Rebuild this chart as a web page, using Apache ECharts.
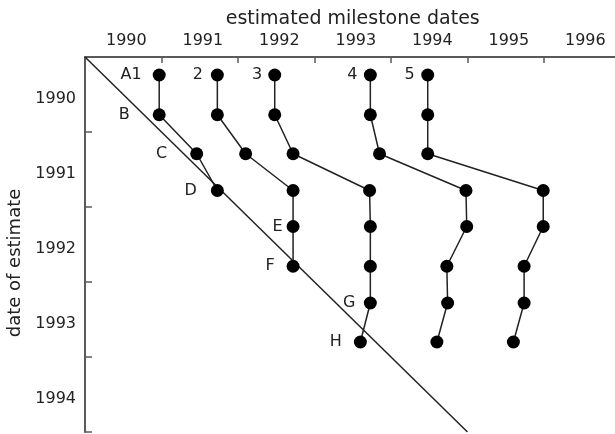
<!DOCTYPE html>
<html>
<head>
<meta charset="utf-8">
<script src="https://cdn.jsdelivr.net/npm/echarts@6/dist/echarts.min.js"></script>
<style>html,body{margin:0;padding:0;background:#fff}#c{width:615px;height:434px}</style>
</head>
<body>
<div id="c"></div>
<script>
// ---- data ----
const milestoneNames = ['1', '2', '3', '4', '5'];
const rowLabels = ['A', 'B', 'C', 'D', 'E', 'F', 'G', 'H'];
const estimateDates = [1990.24, 1990.77, 1991.29, 1991.78, 1992.26, 1992.79, 1993.28, 1993.80];
const milestone1 = [1990.97, 1990.97, 1991.46, 1991.73];
const milestone2 = [1991.73, 1991.73, 1992.10, 1992.72, 1992.72, 1992.72];
const milestone3 = [1992.48, 1992.48, 1992.72, 1993.72, 1993.73, 1993.73, 1993.73, 1993.60];
const milestone4 = [1993.73, 1993.73, 1993.85, 1994.98, 1994.99, 1994.73, 1994.74, 1994.60];
const milestone5 = [1994.48, 1994.48, 1994.48, 1995.99, 1995.99, 1995.74, 1995.74, 1995.60];
const xYears = [1990, 1991, 1992, 1993, 1994, 1995, 1996];
const yYears = [1990, 1991, 1992, 1993, 1994];
const diagonal = [1990, 1995];

// ---- style ----
const ink = '#222';
const axisColor = '#5a5a5a';
const FONT = 'DejaVu Sans';
const labelDistance = {A1: 11, B: 23, C: 23, D: 14, E: 4, F: 12, G: 8.5, H: 12, '2': 8, '3': 6, '4': 6.5, '5': 6.5};

const milestones = [milestone1, milestone2, milestone3, milestone4, milestone5];

// leftmost series in every row gets the row letter
const leftmost = estimateDates.map((_, r) => {
  let best = -1, bx = Infinity;
  milestones.forEach((m, s) => { if (r < m.length && m[r] < bx) { bx = m[r]; best = s; } });
  return best;
});

const series = milestones.map((m, s) => ({
  type: 'line',
  z: 3,
  symbol: 'circle',
  symbolSize: 13,
  itemStyle: {color: '#000'},
  lineStyle: {color: ink, width: 1.5},
  emphasis: {disabled: true},
  data: m.map((x, r) => {
    let txt = '';
    if (leftmost[r] === s) txt += rowLabels[r];
    if (r === 0) txt += milestoneNames[s];
    const item = {value: [x, estimateDates[r]]};
    if (txt) {
      item.label = {
        show: true, position: 'left', formatter: txt,
        distance: labelDistance[txt] ?? 8,
        color: ink, fontFamily: FONT, fontSize: 16
      };
    }
    return item;
  })
}));

series.unshift({
  type: 'line',
  z: 2,
  symbol: 'none',
  lineStyle: {color: ink, width: 1.5},
  emphasis: {disabled: true},
  data: [[diagonal[0], diagonal[0]], [diagonal[1], diagonal[1]]]
});

const chart = echarts.init(document.getElementById('c'), null, {renderer: 'canvas'});
chart.setOption({
  animation: false,
  backgroundColor: '#fff',
  grid: {left: 85, top: 57, width: 535.5, height: 375, outerBoundsMode: 'none', containLabel: false},
  xAxis: {
    type: 'value', position: 'top', min: 1990, max: 1997,
    name: 'estimated milestone dates', nameLocation: 'middle', nameGap: 25,
    nameTextStyle: {fontFamily: FONT, fontSize: 19, color: ink},
    axisLine: {show: true, lineStyle: {color: axisColor, width: 2}},
    axisTick: {show: true, inside: true, length: 6, lineStyle: {color: axisColor, width: 1.5},
      customValues: xYears.slice(1).concat([1997])},
    axisLabel: {show: true, margin: 8, fontFamily: FONT, fontSize: 16, color: ink,
      customValues: xYears.map(y => y + 0.54), formatter: v => String(Math.floor(v))},
    splitLine: {show: false}
  },
  yAxis: {
    type: 'value', inverse: true, min: 1990, max: 1995,
    name: 'date of estimate', nameLocation: 'middle', nameGap: 55,
    nameTextStyle: {fontFamily: FONT, fontSize: 18, color: ink, padding: [0, 37, 0, 0]},
    axisLine: {show: true, lineStyle: {color: axisColor, width: 2}},
    axisTick: {show: true, inside: true, length: 7, lineStyle: {color: axisColor, width: 1.5},
      customValues: yYears.slice(1).concat([1995])},
    axisLabel: {show: true, margin: 9, fontFamily: FONT, fontSize: 16, color: ink,
      customValues: yYears.map(y => y + 0.56), formatter: v => String(Math.floor(v))},
    splitLine: {show: false}
  },
  series: series
});
</script>
</body>
</html>
